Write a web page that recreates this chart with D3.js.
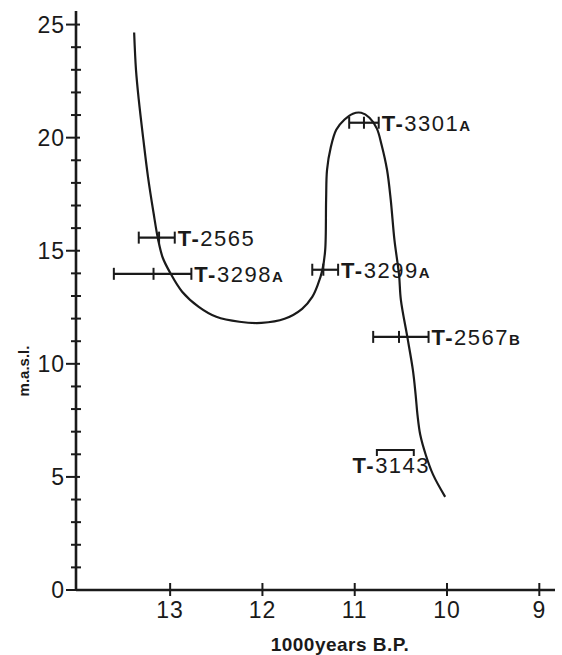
<!DOCTYPE html>
<html>
<head>
<meta charset="utf-8">
<script src="https://cdn.jsdelivr.net/npm/d3@7"></script>
<style>
body { margin: 0; background: #fff; }
svg { display: block; }
</style>
</head>
<body>
<div id="chart"></div>
<script>
/* Data */

// shoreline curve (x = 1000 years B.P., y = m a.s.l.)
var curveYears = [13.39, 13.37, 13.34, 13.29, 13.24, 13.18, 13.13, 13.08, 13.00, 12.87, 12.69, 12.50, 12.25, 12.01, 11.76, 11.57, 11.46, 11.40, 11.35, 11.32, 11.31, 11.30, 11.26, 11.20, 11.11, 11.02, 10.93, 10.84, 10.76, 10.71, 10.65, 10.61, 10.57, 10.52, 10.50, 10.43, 10.37, 10.34, 10.32, 10.29, 10.23, 10.15, 10.02];
var curveLevels = [24.65, 23.0, 21.68, 19.91, 18.27, 16.68, 15.49, 14.69, 14.03, 13.19, 12.52, 12.08, 11.86, 11.81, 11.99, 12.43, 12.96, 13.5, 14.16, 15.04, 17.26, 18.58, 19.56, 20.35, 20.8, 21.06, 21.1, 20.88, 20.4, 19.7, 18.58, 17.26, 15.49, 13.94, 12.83, 11.19, 9.73, 8.63, 7.74, 6.86, 5.97, 5.09, 4.12];

// radiocarbon dates
var dateNums = ["2565", "3298", "3299", "3301", "2567", "3143"];
var dateSuffix = ["", "A", "A", "A", "B", ""];
var dateOld = [13.34, 13.61, 11.46, 11.06, 10.80, 10.76];
var dateYoung = [12.95, 12.77, 11.18, 10.74, 10.20, 10.36];
var dateMid = [13.12, 13.18, 11.34, 10.90, 10.52, null];
var dateLevel = [15.58, 13.98, 14.16, 20.66, 11.19, 6.19];

var xTicks = [13, 12, 11, 10, 9];
var yTicks = [0, 5, 10, 15, 20, 25];
var yMinor = d3.range(0, 26, 1);

/* Chart */

var width = 562, height = 655;
var ink = "#1a1a1a";

var svg = d3.select("#chart").append("svg")
    .attr("width", width).attr("height", height);

var x = d3.scaleLinear().domain([14.02, 8.83]).range([76, 555]);
var y = d3.scaleLinear().domain([0, 25.6]).range([590, 11]);

var font = "'Liberation Sans', Arial, sans-serif";

// y axis
var yAxis = svg.append("g");
yAxis.append("line")
    .attr("x1", x(14.02)).attr("x2", x(14.02))
    .attr("y1", y(0)).attr("y2", y(25.6))
    .attr("stroke", ink).attr("stroke-width", 2.6);
yAxis.selectAll("line.minor").data(yMinor).enter().append("line")
    .attr("class", "minor")
    .attr("x1", function(d) { return x(14.02) - (d % 5 == 0 ? 10 : 5); })
    .attr("x2", function(d) { return x(14.02) + (d % 5 == 0 ? 4 : 5); })
    .attr("y1", function(d) { return y(d); })
    .attr("y2", function(d) { return y(d); })
    .attr("stroke", ink).attr("stroke-width", 2);
yAxis.selectAll("text").data(yTicks).enter().append("text")
    .attr("x", x(14.02) - 11)
    .attr("y", function(d) { return y(d) + 8; })
    .attr("text-anchor", "end")
    .style("font-family", font).style("font-size", "23px")
    .style("letter-spacing", "1px")
    .attr("fill", ink)
    .text(function(d) { return d; });

// x axis
var xAxis = svg.append("g");
xAxis.append("line")
    .attr("x1", x(14.02)).attr("x2", x(8.83))
    .attr("y1", y(0)).attr("y2", y(0))
    .attr("stroke", ink).attr("stroke-width", 2.6);
xAxis.selectAll("line.tick").data(xTicks).enter().append("line")
    .attr("class", "tick")
    .attr("x1", function(d) { return x(d); })
    .attr("x2", function(d) { return x(d); })
    .attr("y1", y(0) - 7).attr("y2", y(0) + 6)
    .attr("stroke", ink).attr("stroke-width", 2);
xAxis.selectAll("text").data(xTicks).enter().append("text")
    .attr("x", function(d) { return x(d); })
    .attr("y", y(0) + 28)
    .attr("text-anchor", "middle")
    .style("font-family", font).style("font-size", "23px")
    .style("letter-spacing", "1px")
    .attr("fill", ink)
    .text(function(d) { return d; });

svg.append("text")
    .attr("x", 340).attr("y", 651)
    .attr("text-anchor", "middle")
    .style("font-family", font).style("font-size", "19px").style("font-weight", "bold")
    .style("letter-spacing", "0.5px")
    .attr("fill", ink)
    .text("1000years B.P.");

svg.append("text")
    .attr("transform", "translate(29,371) rotate(-90)")
    .attr("text-anchor", "middle")
    .style("font-family", font).style("font-size", "15px").style("font-weight", "bold")
    .attr("fill", ink)
    .text("m.a.s.l.");

// curve
var pts = curveYears.map(function(d, i) { return [d, curveLevels[i]]; });
var line = d3.line()
    .x(function(d) { return x(d[0]); })
    .y(function(d) { return y(d[1]); })
    .curve(d3.curveCatmullRom.alpha(0.5));
svg.append("path")
    .datum(pts)
    .attr("d", line)
    .attr("fill", "none")
    .attr("stroke", ink).attr("stroke-width", 2.2);

// dates with error bars
var dates = svg.append("g").selectAll("g").data(dateNums).enter().append("g");
dates.append("line")
    .attr("x1", function(d, i) { return x(dateOld[i]); })
    .attr("x2", function(d, i) { return x(dateYoung[i]); })
    .attr("y1", function(d, i) { return y(dateLevel[i]); })
    .attr("y2", function(d, i) { return y(dateLevel[i]); })
    .attr("stroke", ink).attr("stroke-width", 2.2);
[dateOld, dateYoung].forEach(function(arr) {
    dates.append("line")
        .attr("x1", function(d, i) { return x(arr[i]); })
        .attr("x2", function(d, i) { return x(arr[i]); })
        .attr("y1", function(d, i) { return y(dateLevel[i]) - (dateMid[i] == null ? 1 : 6); })
        .attr("y2", function(d, i) { return y(dateLevel[i]) + 6; })
        .attr("stroke", ink).attr("stroke-width", 2);
});
dates.filter(function(d, i) { return dateMid[i] != null; }).append("line")
    .attr("x1", function(d) { var i = dateNums.indexOf(d); return x(dateMid[i]); })
    .attr("x2", function(d) { var i = dateNums.indexOf(d); return x(dateMid[i]); })
    .attr("y1", function(d) { var i = dateNums.indexOf(d); return y(dateLevel[i]) - 6; })
    .attr("y2", function(d) { var i = dateNums.indexOf(d); return y(dateLevel[i]) + 6; })
    .attr("stroke", ink).attr("stroke-width", 2);

var labels = dates.append("text")
    .attr("x", function(d, i) {
        return dateMid[i] == null ? (x(dateOld[i]) + x(dateYoung[i])) / 2 - 4 : x(dateYoung[i]) + 3;
    })
    .attr("y", function(d, i) { return y(dateLevel[i]) + (dateMid[i] == null ? 23 : 8); })
    .attr("text-anchor", function(d, i) { return dateMid[i] == null ? "middle" : "start"; })
    .style("font-family", font).style("font-size", "22px")
    .style("letter-spacing", "1.5px")
    .attr("fill", ink);
labels.append("tspan").style("font-weight", "bold").text("T-");
labels.append("tspan").text(function(d) { return d; });
labels.append("tspan").style("font-weight", "bold").style("font-size", "15px")
    .text(function(d, i) { return dateSuffix[i]; });
</script>
</body>
</html>
